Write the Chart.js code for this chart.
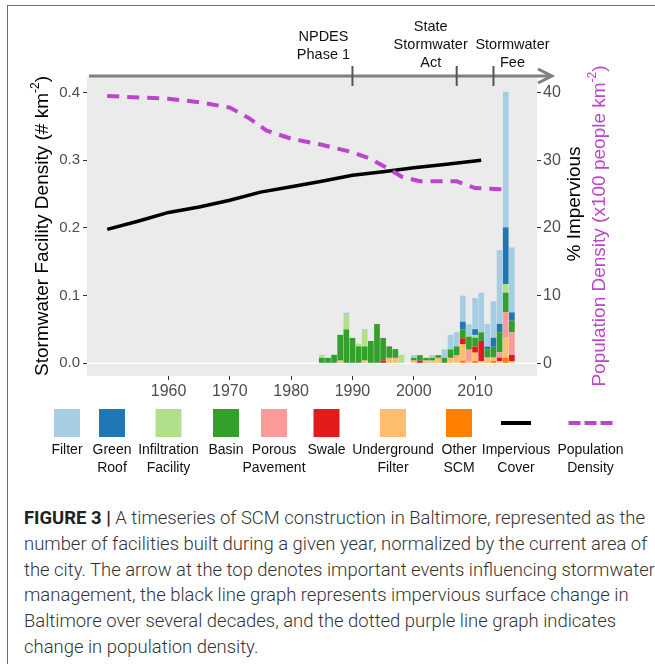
<!DOCTYPE html>
<html>
<head>
<meta charset="utf-8">
<script src="https://cdn.jsdelivr.net/npm/chart.js@4.4.0/dist/chart.umd.min.js"></script>
<style>
  body { margin: 0; background: #fff; width: 655px; height: 664px; overflow: hidden; position: relative; }
  #frame { position: absolute; left: 7px; top: 5px; width: 700px; height: 700px;
           border-left: 1.5px solid #707070; border-top: 1.5px solid #707070; }
  #chart { position: absolute; left: 0; top: 0; }
  #caption { position: absolute; left: 24px; top: 506px; font-family: Roboto, 'Liberation Sans', sans-serif;
             font-weight: 300; font-size: 17.5px; line-height: 25.8px; color: #333; white-space: nowrap; }
  #caption div { transform-origin: 0 50%; }
  #caption b { font-weight: 700; color: #222; }
</style>
</head>
<body>
<div id="frame"></div>
<canvas id="chart" width="655" height="490"></canvas>
<div id="caption">
  <div><span><b>FIGURE 3 |</b> A timeseries of SCM construction in Baltimore, represented as the</span></div>
  <div><span>number of facilities built during a given year, normalized by the current area of</span></div>
  <div><span>the city. The arrow at the top denotes important events influencing stormwater</span></div>
  <div><span>management, the black line graph represents impervious surface change in</span></div>
  <div><span>Baltimore over several decades, and the dotted purple line graph indicates</span></div>
  <div><span>change in population density.</span></div>
</div>
<script>
// ---- data (facilities per km2, by year of construction) ----
const years = [1985, 1986, 1987, 1988, 1989, 1990, 1991, 1992, 1993, 1994, 1995, 1996, 1997, 1998, 1999,
               2000, 2001, 2002, 2003, 2004, 2005, 2006, 2007, 2008, 2009, 2010, 2011, 2012, 2013, 2014, 2015, 2016];
const filterVals = [0, 0, 0, 0, 0.004, 0, 0, 0, 0, 0, 0, 0, 0, 0, 0,
  0.004, 0, 0, 0.004, 0, 0.0125, 0.0215, 0.021, 0.0385, 0.016, 0.046, 0.0585, 0.0335, 0.054, 0.109, 0.2005, 0.096];
const greenRoofVals = [0, 0, 0, 0, 0, 0, 0, 0, 0, 0, 0, 0, 0, 0, 0,
  0, 0, 0, 0, 0, 0, 0, 0, 0.0115, 0, 0.0085, 0, 0.004, 0.0133, 0.0123, 0.0837, 0.0123];
const infiltrationVals = [0.0045, 0, 0, 0, 0.021, 0, 0.004, 0.0255, 0, 0, 0, 0, 0, 0.0125, 0,
  0, 0, 0, 0, 0, 0, 0, 0, 0, 0.0025, 0.004, 0, 0, 0, 0, 0.0128, 0];
const basinVals = [0.008, 0.008, 0.0125, 0.038, 0.05, 0.0375, 0.025, 0.021, 0.033, 0.058, 0.0335, 0.017, 0.013, 0, 0,
  0.004, 0.008, 0.004, 0.004, 0.004, 0.008, 0.0125, 0.013, 0.013, 0.0192, 0.0133, 0.0128, 0.0123, 0.016, 0.0296, 0.029, 0.0172];
const porousVals = [0, 0, 0, 0, 0, 0, 0, 0, 0, 0, 0, 0, 0, 0, 0,
  0, 0, 0, 0, 0, 0, 0, 0.004, 0, 0.0167, 0, 0, 0, 0, 0.008, 0.0374, 0.0335];
const swaleVals = [0, 0, 0, 0, 0, 0, 0, 0, 0, 0, 0.004, 0, 0, 0, 0,
  0, 0.004, 0, 0, 0, 0, 0, 0, 0.0085, 0, 0.0089, 0.0296, 0, 0, 0.005, 0, 0.0089];
const undergroundVals = [0, 0, 0, 0.004, 0, 0, 0, 0.004, 0, 0, 0, 0.008, 0.008, 0, 0,
  0.004, 0, 0.004, 0.004, 0.008, 0, 0.008, 0.008, 0.0245, 0.0034, 0.0123, 0.0034, 0.0084, 0.005, 0.0034, 0.0296, 0.0034];
const otherVals = [0, 0, 0, 0, 0, 0, 0, 0, 0, 0, 0, 0, 0, 0, 0,
  0, 0, 0, 0, 0, 0, 0, 0, 0.004, 0, 0.0034, 0, 0, 0.0034, 0, 0.0084, 0];

// % impervious and population density (x100 people per km2), right axis
const imperviousYears = [1950, 1955, 1960, 1965, 1970, 1975, 1980, 1985, 1990, 1995, 2000, 2005, 2011];
const imperviousVals = [19.8, 21.0, 22.3, 23.1, 24.1, 25.3, 26.1, 26.9, 27.8, 28.3, 28.9, 29.4, 30.0];
const popYears = [1950, 1955, 1960, 1965, 1970, 1973, 1976, 1980, 1985, 1990, 1993, 1996, 1998, 2001, 2007, 2010, 2015];
const popVals = [39.5, 39.3, 39.1, 38.6, 37.8, 36.3, 34.4, 33.2, 32.3, 31.2, 30.2, 28.7, 27.6, 26.9, 26.9, 25.9, 25.7];

const xTicks = [1960, 1970, 1980, 1990, 2000, 2010];
const yTicks = [0, 0.1, 0.2, 0.3, 0.4];
const y2Ticks = [0, 10, 20, 30, 40];

const events = [1990, 2007, 2013];
const eventLabels = [['NPDES', 'Phase 1'], ['State', 'Stormwater', 'Act'], ['Stormwater', 'Fee']];

const legendLabels = [['Filter'], ['Green', 'Roof'], ['Infiltration', 'Facility'], ['Basin'], ['Porous', 'Pavement'],
  ['Swale'], ['Underground', 'Filter'], ['Other', 'SCM'], ['Impervious', 'Cover'], ['Population', 'Density']];

// ---- styles ----
const FONT = "'Liberation Sans', Arial, Helvetica, sans-serif";
const PURPLE = '#bd45cd';
const colours = {
  filter: '#a6cee3', greenRoof: '#1f78b4', infiltration: '#b2df8a', basin: '#33a02c',
  porous: '#fb9a99', swale: '#e31a1c', underground: '#fdbf6f', other: '#ff7f00'
};

Chart.defaults.font.family = FONT;

function barSet(label, vals, colour) {
  return {
    type: 'bar', label: label, order: 1,
    data: years.map((yr, i) => ({ x: yr, y: vals[i] })),
    backgroundColor: colour, borderWidth: 0,
    categoryPercentage: 1, barPercentage: 0.93, yAxisID: 'y'
  };
}

// bottom of the stack first
const barSets = [
  barSet('Other SCM', otherVals, colours.other),
  barSet('Underground Filter', undergroundVals, colours.underground),
  barSet('Swale', swaleVals, colours.swale),
  barSet('Porous Pavement', porousVals, colours.porous),
  barSet('Basin', basinVals, colours.basin),
  barSet('Infiltration Facility', infiltrationVals, colours.infiltration),
  barSet('Green Roof', greenRoofVals, colours.greenRoof),
  barSet('Filter', filterVals, colours.filter)
];

const lineSets = [
  {
    type: 'line', label: 'Population Density', order: 0, yAxisID: 'y2',
    data: popYears.map((yr, i) => ({ x: yr, y: popVals[i] })),
    borderColor: PURPLE, borderWidth: 4, borderDash: [12, 8], pointRadius: 0, tension: 0
  },
  {
    type: 'line', label: 'Impervious Cover', order: 0, yAxisID: 'y2',
    data: imperviousYears.map((yr, i) => ({ x: yr, y: imperviousVals[i] })),
    borderColor: '#000', borderWidth: 3.5, pointRadius: 0, tension: 0
  }
];

const tickStyle = { font: { size: 15 }, color: '#4d4d4d' };
const gridStyle = { drawOnChartArea: false, drawTicks: true, tickLength: 4, color: '#333', lineWidth: 1 };

function vText(ctx, parts, cx, cy, colour, size) {
  ctx.save();
  ctx.translate(cx, cy);
  ctx.rotate(-Math.PI / 2);
  ctx.fillStyle = colour;
  ctx.textBaseline = 'middle';
  ctx.textAlign = 'left';
  const fontOf = p => (p.sup ? Math.round(size * 0.62) : size) + 'px ' + FONT;
  let w = 0;
  parts.forEach(p => { ctx.font = fontOf(p); w += ctx.measureText(p.t).width; });
  let x = -w / 2;
  parts.forEach(p => {
    ctx.font = fontOf(p);
    ctx.fillText(p.t, x, p.sup ? -size * 0.38 : 0);
    x += ctx.measureText(p.t).width;
  });
  ctx.restore();
}

const decor = {
  id: 'decor',
  beforeDatasetsDraw(chart) {
    const { ctx, chartArea: a, scales } = chart;
    ctx.save();
    ctx.fillStyle = '#ebebeb';
    ctx.fillRect(a.left, a.top, a.right - a.left, a.bottom - a.top);
    const y0 = scales.y.getPixelForValue(0);
    ctx.strokeStyle = '#fff';
    ctx.lineWidth = 1.5;
    ctx.beginPath(); ctx.moveTo(a.left, y0); ctx.lineTo(a.right, y0); ctx.stroke();
    ctx.restore();
  },
  afterDraw(chart) {
    const { ctx, chartArea: a, scales } = chart;
    ctx.save();

    // timeline arrow
    const ay = 76;
    ctx.strokeStyle = '#808080';
    ctx.lineWidth = 3;
    ctx.beginPath(); ctx.moveTo(a.left + 2, ay); ctx.lineTo(551, ay); ctx.stroke();
    ctx.beginPath(); ctx.moveTo(538, ay - 7); ctx.lineTo(552, ay); ctx.lineTo(538, ay + 7); ctx.stroke();

    ctx.strokeStyle = '#555';
    ctx.lineWidth = 2;
    ctx.fillStyle = '#111';
    ctx.font = '14.5px ' + FONT;
    ctx.textAlign = 'center';
    ctx.textBaseline = 'middle';
    const offsets = [-29, -26, 19];
    const bottoms = [55, 63, 63];
    events.forEach((yr, i) => {
      const x = scales.x.getPixelForValue(yr);
      ctx.beginPath(); ctx.moveTo(x, ay - 10); ctx.lineTo(x, ay + 10); ctx.stroke();
      const lines = eventLabels[i];
      lines.forEach((t, j) => {
        ctx.fillText(t, x + offsets[i], bottoms[i] - (lines.length - 1 - j) * 18);
      });
    });

    // axis titles
    vText(ctx, [{ t: 'Stormwater Facility Density (# km' }, { t: '-2', sup: true }, { t: ')' }], 43, 226, '#000', 19);
    vText(ctx, [{ t: '% Impervious' }], 575, 204, '#000', 19);
    vText(ctx, [{ t: 'Population Density (x100 people km' }, { t: '-2', sup: true }, { t: ')' }], 600, 226, PURPLE, 19);

    // legend
    const centres = [67, 112, 168.5, 226, 274, 326.5, 393, 459, 516, 590.5];
    const swatches = [colours.filter, colours.greenRoof, colours.infiltration, colours.basin,
      colours.porous, colours.swale, colours.underground, colours.other];
    const ky = 423;
    centres.forEach((cx, i) => {
      if (i < 8) {
        ctx.fillStyle = swatches[i];
        ctx.fillRect(cx - 13, ky - 14, 26, 28);
      } else if (i === 8) {
        ctx.strokeStyle = '#000'; ctx.lineWidth = 4; ctx.setLineDash([]);
        ctx.beginPath(); ctx.moveTo(cx - 15, ky); ctx.lineTo(cx + 15, ky); ctx.stroke();
      } else {
        ctx.strokeStyle = PURPLE; ctx.lineWidth = 4; ctx.setLineDash([12, 4]);
        ctx.beginPath(); ctx.moveTo(cx - 22, ky); ctx.lineTo(cx + 22, ky); ctx.stroke();
        ctx.setLineDash([]);
      }
      ctx.fillStyle = '#111';
      ctx.font = '14px ' + FONT;
      legendLabels[i].forEach((t, j) => ctx.fillText(t, cx, 450 + j * 18.5));
    });
    ctx.restore();
  }
};

new Chart(document.getElementById('chart'), {
  data: { datasets: [...lineSets, ...barSets] },
  options: {
    responsive: false,
    animation: false,
    devicePixelRatio: 1,
    layout: { padding: { top: 77, left: 0, right: 0, bottom: 0 } },
    plugins: { legend: { display: false }, tooltip: { enabled: false } },
    scales: {
      x: {
        type: 'linear', position: 'bottom', stacked: true, offset: false,
        min: 1946.7, max: 2020.1,
        afterBuildTicks: s => { s.ticks = xTicks.map(v => ({ value: v })); },
        afterFit: s => { s.height = 114; },
        ticks: { ...tickStyle, font: { size: 16 }, padding: 2, callback: v => String(v), maxRotation: 0 },
        grid: { ...gridStyle, offset: false }, border: { display: false }
      },
      y: {
        type: 'linear', position: 'left', stacked: true,
        min: -0.0188, max: 0.4232,
        afterBuildTicks: s => { s.ticks = yTicks.map(v => ({ value: v })); },
        afterFit: s => { s.width = 87; },
        ticks: { ...tickStyle, padding: 3, callback: v => v.toFixed(1) },
        grid: gridStyle, border: { display: false }
      },
      y2: {
        type: 'linear', position: 'right', stacked: false,
        min: -1.88, max: 42.32,
        afterBuildTicks: s => { s.ticks = y2Ticks.map(v => ({ value: v })); },
        afterFit: s => { s.width = 118; },
        ticks: { ...tickStyle, font: { size: 16 }, padding: 2, callback: v => String(v) },
        grid: gridStyle, border: { display: false }
      }
    }
  },
  plugins: [decor]
});

// fit caption lines to the reference line length
const capLines = document.querySelectorAll('#caption div');
const firstW = capLines[0].querySelector('span').getBoundingClientRect().width;
const k = 621 / firstW;
capLines.forEach(d => { d.style.transform = 'scaleX(' + k + ')'; });
</script>
</body>
</html>
